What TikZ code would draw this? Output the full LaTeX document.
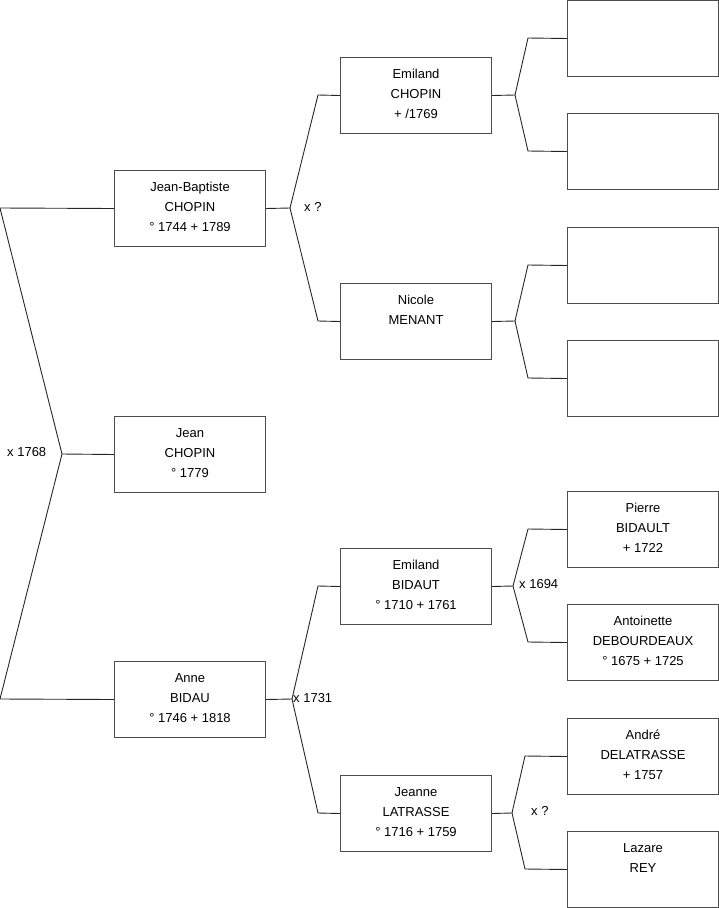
\documentclass[tikz,border=0pt]{standalone}
\usepackage{fontspec}
\setmainfont{Liberation Sans}
\begin{document}
\begin{tikzpicture}[x=1pt,y=-1pt,
  box/.style={draw=black!70,line width=1pt,minimum width=151pt,minimum height=76pt,inner sep=0pt,anchor=north west},
  txt/.style={font=\fontsize{13}{20}\selectfont,align=center,anchor=north,inner sep=0pt},
  lbl/.style={font=\fontsize{13}{20}\selectfont,inner sep=0pt,anchor=west},
  con/.style={line width=0.9pt,black!85}]
\useasboundingbox (0,0) rectangle (719,908);
% column 1
\node[box] (jb) at (114,170) {};
\node[box] (je) at (114,416) {};
\node[box] (an) at (114,661) {};
% column 2
\node[box] (ec) at (340,57) {};
\node[box] (ni) at (340,283) {};
\node[box] (eb) at (340,548) {};
\node[box] (jl) at (340,775) {};
% column 3
\node[box] (g1) at (567,0) {};
\node[box] (g2) at (567,113) {};
\node[box] (g3) at (567,227) {};
\node[box] (g4) at (567,340) {};
\node[box] (g5) at (567,491) {};
\node[box] (g6) at (567,604) {};
\node[box] (g7) at (567,718) {};
\node[box] (g8) at (567,831) {};
% texts
\newcommand{\boxtext}[2]{\node[txt] (#1t) at ([yshift=-12pt]#1.north) {#2};}
\boxtext{jb}{Jean-Baptiste\\CHOPIN\\° 1744 + 1789}
\boxtext{je}{Jean\\CHOPIN\\° 1779}
\boxtext{an}{Anne\\BIDAU\\° 1746 + 1818}
\boxtext{ec}{Emiland\\CHOPIN\\ + /1769}
\boxtext{ni}{Nicole\\MENANT}
\boxtext{eb}{Emiland\\BIDAUT\\° 1710 + 1761}
\boxtext{jl}{Jeanne\\LATRASSE\\° 1716 + 1759}
\boxtext{g5}{Pierre\\BIDAULT\\+ 1722}
\boxtext{g6}{Antoinette\\DEBOURDEAUX\\° 1675 + 1725}
\boxtext{g7}{André\\DELATRASSE\\+ 1757}
\boxtext{g8}{Lazare\\REY}
% brackets
\coordinate (a0) at (0,208);
\coordinate (a1) at (62,454);
\coordinate (a2) at (0,699);
\draw[con] (jb.west) -- (a0) -- (a1) -- (a2) -- (an.west);
\draw[con] (a1) -- (je.west);
\node[lbl] (l1) at (7,452) {x 1768};
% JB
\coordinate (b0) at (290,208);
\draw[con] (jb.east) -- (b0);
\draw[con] (b0) -- (318,95) -- (ec.west);
\draw[con] (b0) -- (318,321) -- (ni.west);
\node[lbl] (l2) at (304,207) {x ?};
% Anne
\coordinate (c0) at (292,699);
\draw[con] (an.east) -- (c0);
\draw[con] (c0) -- (318,586) -- (eb.west);
\draw[con] (c0) -- (318,813) -- (jl.west);
\node[lbl] (l3) at (293,698) {x 1731};
% EC
\coordinate (d0) at (515,95);
\draw[con] (ec.east) -- (d0);
\draw[con] (d0) -- (528,38) -- (g1.west);
\draw[con] (d0) -- (528,151) -- (g2.west);
% NI
\coordinate (e0) at (515,321);
\draw[con] (ni.east) -- (e0);
\draw[con] (e0) -- (528,265) -- (g3.west);
\draw[con] (e0) -- (528,378) -- (g4.west);
% EB
\coordinate (f0) at (513,586);
\draw[con] (eb.east) -- (f0);
\draw[con] (f0) -- (528,529) -- (g5.west);
\draw[con] (f0) -- (528,642) -- (g6.west);
\node[lbl] (l4) at (519,584) {x 1694};
% JL
\coordinate (h0) at (512,813);
\draw[con] (jl.east) -- (h0);
\draw[con] (h0) -- (525,756) -- (g7.west);
\draw[con] (h0) -- (525,869) -- (g8.west);
\node[lbl] (l5) at (531,811) {x ?};
\end{tikzpicture}
\end{document}
